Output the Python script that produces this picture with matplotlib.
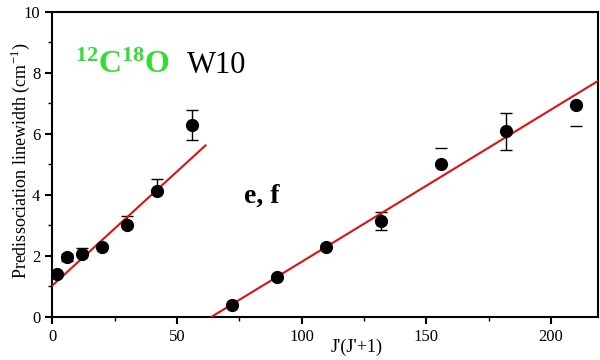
import numpy as np
import matplotlib.pyplot as plt

plt.rcParams['font.family'] = 'Liberation Serif'
plt.rcParams['mathtext.fontset'] = 'custom'
plt.rcParams['mathtext.rm'] = 'Liberation Serif'
plt.rcParams['mathtext.bf'] = 'Liberation Serif:bold'

# J'(J'+1) values and linewidths (cm-1)
jj_low = [2, 6, 12, 20, 30, 42, 56]
w_low = [1.40, 1.95, 2.05, 2.28, 3.02, 4.11, 6.28]
lo_low = [0.0, 0.12, 0.0, 0.0, 0.0, 0.0, 0.48]
hi_low = [0.0, 0.12, 0.20, 0.0, 0.30, 0.40, 0.50]

jj_high = [72, 90, 110, 132, 156, 182, 210]
w_high = [0.38, 1.32, 2.28, 3.15, 5.00, 6.10, 6.95]
lo_high = [0.0, 0.0, 0.0, 0.30, 0.0, 0.62, 0.70]
hi_high = [0.0, 0.0, 0.0, 0.29, 0.54, 0.58, 0.0]
caps_only = [156, 210]

# linear fits: intercept, slope, x range
fit_low = (1.02, 0.0748, 0, 61.5)
fit_high = (-3.19, 0.0499, 64, 220)

fig = plt.figure(figsize=(6, 3.6), dpi=100)
ax = fig.add_axes([0.087, 0.12, 0.91, 0.847])

jj = np.array(jj_low + jj_high)
w = np.array(w_low + w_high)
lo = np.array(lo_low + lo_high)
hi = np.array(hi_low + hi_high)
m = np.isin(jj, caps_only)

ax.errorbar(jj[~m], w[~m], yerr=[lo[~m], hi[~m]], fmt='none', ecolor='black',
            elinewidth=1, capsize=4, capthick=1)
# points where only the cap is drawn
for x, y, l, h in zip(jj[m], w[m], lo[m], hi[m]):
    if l > 0:
        ax.plot([x], [y - l], marker='_', color='black', ms=8, mew=1)
    if h > 0:
        ax.plot([x], [y + h], marker='_', color='black', ms=8, mew=1)

for b, s, x0, x1 in [fit_low, fit_high]:
    xs = np.array([x0, x1])
    ax.plot(xs, b + s * xs, color='#dd1111', lw=1.5, zorder=3)

ax.plot(jj, w, 'o', color='black', ms=8.5, zorder=4)

ax.set_xlim(0, 219)
ax.set_ylim(0, 10)
ax.set_xticks([0, 50, 100, 150, 200])
ax.set_xticks(np.arange(25, 220, 25), minor=True)
ax.set_yticks([0, 2, 4, 6, 8, 10])
ax.set_yticks([1, 3, 5, 7, 9], minor=True)
ax.tick_params(direction='out', length=5, width=1.5, labelsize=12)
ax.tick_params(which='minor', direction='out', length=3, width=1)
for sp in ax.spines.values():
    sp.set_linewidth(1.5)

ax.set_ylabel('Predissociation linewidth (cm$^{-1}$)', fontsize=13, va='center')
ax.yaxis.set_label_coords(-0.058, 0.51)
ax.set_xlabel("J'(J'+1)", fontsize=13, va='center')
ax.xaxis.set_label_coords(0.558, -0.10)

ax.text(9, 8.0, r'$\mathbf{^{12}C^{18}O}$', color='#33dd33', fontsize=23)
ax.text(54, 8.0, 'W10', color='black', fontsize=22)
ax.text(77, 3.74, 'e, f', fontsize=20, fontweight='bold')

fig.savefig('out.png', dpi=100)
